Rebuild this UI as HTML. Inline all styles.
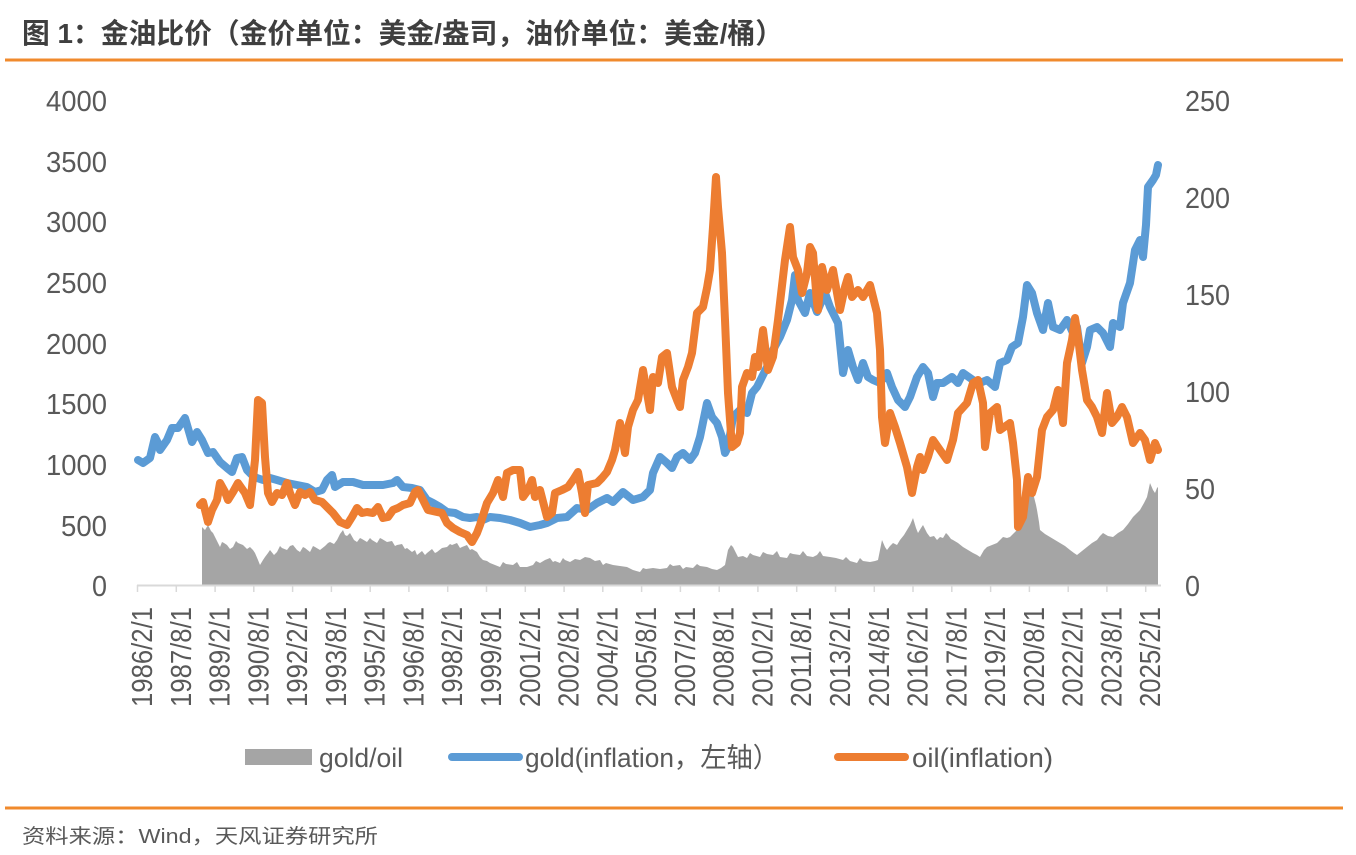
<!DOCTYPE html>
<html>
<head>
<meta charset="utf-8">
<style>
html,body{margin:0;padding:0;background:#fff;}
svg{display:block;}
text{font-family:"Liberation Sans","Noto Sans CJK SC",sans-serif;}
</style>
</head>
<body>
<svg width="1356" height="855" viewBox="0 0 1356 855" xmlns="http://www.w3.org/2000/svg">
<rect width="1356" height="855" fill="#fff"/>
<!-- Title -->
<text x="22" y="43" font-size="28" font-weight="bold" fill="#3f3f3f" textLength="761" lengthAdjust="spacingAndGlyphs">图 1：金油比价（金价单位：美金/盎司，油价单位：美金/桶）</text>
<rect x="5" y="58.5" width="1338" height="3" fill="#F08A2C"/>

<!-- Left axis labels -->
<g font-size="29" fill="#595959" text-anchor="end">
<text x="107" y="111" textLength="61" lengthAdjust="spacingAndGlyphs">4000</text>
<text x="107" y="172" textLength="61" lengthAdjust="spacingAndGlyphs">3500</text>
<text x="107" y="232" textLength="61" lengthAdjust="spacingAndGlyphs">3000</text>
<text x="107" y="293" textLength="61" lengthAdjust="spacingAndGlyphs">2500</text>
<text x="107" y="354" textLength="61" lengthAdjust="spacingAndGlyphs">2000</text>
<text x="107" y="414" textLength="61" lengthAdjust="spacingAndGlyphs">1500</text>
<text x="107" y="475" textLength="61" lengthAdjust="spacingAndGlyphs">1000</text>
<text x="107" y="536" textLength="46" lengthAdjust="spacingAndGlyphs">500</text>
<text x="107" y="596" textLength="15" lengthAdjust="spacingAndGlyphs">0</text>
</g>
<!-- Right axis labels -->
<g font-size="29" fill="#595959" text-anchor="start">
<text x="1185" y="111" textLength="45" lengthAdjust="spacingAndGlyphs">250</text>
<text x="1185" y="208" textLength="45" lengthAdjust="spacingAndGlyphs">200</text>
<text x="1185" y="305" textLength="45" lengthAdjust="spacingAndGlyphs">150</text>
<text x="1185" y="402" textLength="45" lengthAdjust="spacingAndGlyphs">100</text>
<text x="1185" y="499" textLength="30" lengthAdjust="spacingAndGlyphs">50</text>
<text x="1185" y="596" textLength="15" lengthAdjust="spacingAndGlyphs">0</text>
</g>

<!-- Gray area gold/oil -->
<polygon fill="#A5A5A5" points="202,585 202,527 205,530 208,525 211,531 213,533 217,541 220,547 222,542 224,543 227,545 230,549 233,547 236,541 238,543 243,545 247,549 250,547 253,550 255,553 258,560 260,565 263,560 265,557 268,553 270,550 274,555 277,552 280,546 282,548 287,550 290,546 293,545 297,550 300,552 303,547 305,548 310,552 313,546 315,547 320,550 325,546 328,543 330,542 334,544 337,540 340,534 343,530 345,535 347,536 350,533 354,540 357,542 360,538 362,539 367,542 370,538 372,540 377,543 380,538 382,539 387,542 392,541 395,546 397,545 402,544 405,549 407,548 412,552 415,550 417,555 422,551 425,555 427,553 432,549 435,553 437,552 442,548 447,547 450,544 452,545 457,543 460,548 462,547 467,545 470,550 472,549 477,552 480,557 483,560 487,561 490,563 495,565 500,567 503,562 506,564 513,565 517,562 520,567 527,567 533,565 536,561 540,563 545,560 550,558 553,562 555,561 560,563 563,558 565,560 570,562 575,559 580,560 585,557 590,558 595,561 600,560 603,565 606,563 613,565 620,566 627,567 633,570 640,572 643,568 646,569 653,568 660,569 667,568 670,564 673,566 680,565 683,569 686,567 693,568 697,564 700,566 707,567 712,569 717,570 721,568 725,565 728,550 731,545 733,547 736,553 738,557 743,556 747,558 750,553 753,555 760,557 763,552 767,554 773,555 777,551 780,557 787,558 790,553 793,554 800,555 803,551 807,556 813,557 817,555 820,551 823,556 830,557 836,558 843,560 846,557 850,561 857,563 860,558 863,561 870,562 875,561 878,560 882,540 885,547 887,550 890,546 893,543 897,545 900,540 904,535 907,530 910,525 913,518 916,528 918,533 921,528 923,525 927,533 930,537 934,536 937,540 940,537 943,538 946,533 948,535 951,539 953,540 958,543 963,547 968,550 973,553 977,555 980,557 984,550 987,547 992,545 997,543 1000,540 1003,537 1007,538 1010,537 1014,533 1017,530 1020,525 1022,523 1025,505 1027,495 1030,487 1032,492 1034,497 1036,505 1037,510 1039,522 1040,530 1045,534 1050,537 1055,540 1060,543 1065,546 1070,550 1074,553 1077,555 1082,551 1087,547 1092,543 1097,540 1100,536 1103,533 1108,536 1113,537 1118,533 1123,530 1128,524 1133,517 1137,513 1140,510 1144,503 1147,497 1150,483 1153,490 1155,493 1157,488 1158,487 1158,585"/>

<!-- X axis -->
<line x1="137" y1="585.5" x2="1161" y2="585.5" stroke="#D9D9D9" stroke-width="2"/>
<g stroke="#D9D9D9" stroke-width="1.5">
<line x1="137.5" y1="585" x2="137.5" y2="592"/><line x1="176.3" y1="585" x2="176.3" y2="592"/><line x1="215.1" y1="585" x2="215.1" y2="592"/><line x1="253.8" y1="585" x2="253.8" y2="592"/><line x1="292.6" y1="585" x2="292.6" y2="592"/><line x1="331.4" y1="585" x2="331.4" y2="592"/><line x1="370.2" y1="585" x2="370.2" y2="592"/><line x1="408.9" y1="585" x2="408.9" y2="592"/><line x1="447.7" y1="585" x2="447.7" y2="592"/><line x1="486.5" y1="585" x2="486.5" y2="592"/><line x1="525.3" y1="585" x2="525.3" y2="592"/><line x1="564.1" y1="585" x2="564.1" y2="592"/><line x1="602.8" y1="585" x2="602.8" y2="592"/><line x1="641.6" y1="585" x2="641.6" y2="592"/><line x1="680.4" y1="585" x2="680.4" y2="592"/><line x1="719.2" y1="585" x2="719.2" y2="592"/><line x1="757.9" y1="585" x2="757.9" y2="592"/><line x1="796.7" y1="585" x2="796.7" y2="592"/><line x1="835.5" y1="585" x2="835.5" y2="592"/><line x1="874.3" y1="585" x2="874.3" y2="592"/><line x1="913.0" y1="585" x2="913.0" y2="592"/><line x1="951.8" y1="585" x2="951.8" y2="592"/><line x1="990.6" y1="585" x2="990.6" y2="592"/><line x1="1029.4" y1="585" x2="1029.4" y2="592"/><line x1="1068.2" y1="585" x2="1068.2" y2="592"/><line x1="1106.9" y1="585" x2="1106.9" y2="592"/><line x1="1145.7" y1="585" x2="1145.7" y2="592"/>
</g>
<g font-size="29" fill="#595959" text-anchor="end">
<text transform="translate(152,607) rotate(-90)" textLength="100" lengthAdjust="spacingAndGlyphs">1986/2/1</text>
<text transform="translate(190.8,607) rotate(-90)" textLength="100" lengthAdjust="spacingAndGlyphs">1987/8/1</text>
<text transform="translate(229.6,607) rotate(-90)" textLength="100" lengthAdjust="spacingAndGlyphs">1989/2/1</text>
<text transform="translate(268.3,607) rotate(-90)" textLength="100" lengthAdjust="spacingAndGlyphs">1990/8/1</text>
<text transform="translate(307.1,607) rotate(-90)" textLength="100" lengthAdjust="spacingAndGlyphs">1992/2/1</text>
<text transform="translate(345.9,607) rotate(-90)" textLength="100" lengthAdjust="spacingAndGlyphs">1993/8/1</text>
<text transform="translate(384.7,607) rotate(-90)" textLength="100" lengthAdjust="spacingAndGlyphs">1995/2/1</text>
<text transform="translate(423.4,607) rotate(-90)" textLength="100" lengthAdjust="spacingAndGlyphs">1996/8/1</text>
<text transform="translate(462.2,607) rotate(-90)" textLength="100" lengthAdjust="spacingAndGlyphs">1998/2/1</text>
<text transform="translate(501.0,607) rotate(-90)" textLength="100" lengthAdjust="spacingAndGlyphs">1999/8/1</text>
<text transform="translate(539.8,607) rotate(-90)" textLength="100" lengthAdjust="spacingAndGlyphs">2001/2/1</text>
<text transform="translate(578.6,607) rotate(-90)" textLength="100" lengthAdjust="spacingAndGlyphs">2002/8/1</text>
<text transform="translate(617.3,607) rotate(-90)" textLength="100" lengthAdjust="spacingAndGlyphs">2004/2/1</text>
<text transform="translate(656.1,607) rotate(-90)" textLength="100" lengthAdjust="spacingAndGlyphs">2005/8/1</text>
<text transform="translate(694.9,607) rotate(-90)" textLength="100" lengthAdjust="spacingAndGlyphs">2007/2/1</text>
<text transform="translate(733.7,607) rotate(-90)" textLength="100" lengthAdjust="spacingAndGlyphs">2008/8/1</text>
<text transform="translate(772.4,607) rotate(-90)" textLength="100" lengthAdjust="spacingAndGlyphs">2010/2/1</text>
<text transform="translate(811.2,607) rotate(-90)" textLength="100" lengthAdjust="spacingAndGlyphs">2011/8/1</text>
<text transform="translate(850.0,607) rotate(-90)" textLength="100" lengthAdjust="spacingAndGlyphs">2013/2/1</text>
<text transform="translate(888.8,607) rotate(-90)" textLength="100" lengthAdjust="spacingAndGlyphs">2014/8/1</text>
<text transform="translate(927.5,607) rotate(-90)" textLength="100" lengthAdjust="spacingAndGlyphs">2016/2/1</text>
<text transform="translate(966.3,607) rotate(-90)" textLength="100" lengthAdjust="spacingAndGlyphs">2017/8/1</text>
<text transform="translate(1005.1,607) rotate(-90)" textLength="100" lengthAdjust="spacingAndGlyphs">2019/2/1</text>
<text transform="translate(1043.9,607) rotate(-90)" textLength="100" lengthAdjust="spacingAndGlyphs">2020/8/1</text>
<text transform="translate(1082.7,607) rotate(-90)" textLength="100" lengthAdjust="spacingAndGlyphs">2022/2/1</text>
<text transform="translate(1121.4,607) rotate(-90)" textLength="100" lengthAdjust="spacingAndGlyphs">2023/8/1</text>
<text transform="translate(1160.2,607) rotate(-90)" textLength="100" lengthAdjust="spacingAndGlyphs">2025/2/1</text>
</g>

<!-- Gold (blue) -->
<polyline fill="none" stroke="#5B9BD5" stroke-width="8" stroke-linejoin="round" stroke-linecap="round" points="138,460 143,463 150,458 155,437 158,443 160,450 167,440 172,428 178,428 185,418 192,442 197,432 202,440 208,453 213,452 220,462 227,468 232,472 237,458 242,457 247,470 252,475 257,478 263,480 270,478 277,480 287,483 297,485 307,487 315,492 322,490 327,480 332,475 335,487 343,482 353,482 363,485 373,485 383,485 393,483 397,480 403,487 412,488 420,490 427,500 433,503 440,507 447,512 455,513 463,517 470,518 477,517 483,520 490,517 500,518 510,520 520,523 530,527 540,525 547,523 557,518 567,517 577,508 587,510 597,503 607,498 613,502 623,492 633,500 643,497 650,490 653,473 660,457 667,463 672,468 677,457 683,453 690,460 695,453 700,437 707,403 712,417 717,423 722,437 725,453 728,447 733,417 740,410 747,413 752,393 757,387 762,377 767,367 773,350 780,337 787,320 792,300 795,275 798,300 805,313 810,293 817,312 825,293 830,307 838,323 843,373 848,350 853,367 858,380 863,363 868,377 873,380 880,383 887,373 892,387 898,400 905,407 910,397 917,377 923,367 928,373 933,397 937,383 943,383 952,377 958,383 963,373 973,380 980,383 987,380 995,387 1000,363 1007,360 1012,347 1018,343 1023,317 1027,285 1032,293 1037,313 1043,330 1048,303 1053,327 1060,330 1067,320 1073,333 1077,327 1082,363 1087,347 1090,330 1097,327 1103,333 1110,347 1113,323 1120,327 1123,303 1130,283 1135,250 1140,240 1143,257 1146,225 1148,187 1153,180 1156,175 1158,165"/>

<!-- Oil (orange) -->
<polyline fill="none" stroke="#ED7D31" stroke-width="8" stroke-linejoin="round" stroke-linecap="round" points="200,505 203,502 208,522 212,510 217,500 220,483 225,492 228,500 233,492 238,483 245,493 250,505 255,460 258,400 262,403 265,457 268,493 272,502 277,493 282,495 287,483 290,493 295,505 300,492 305,495 310,492 315,500 322,502 327,507 333,513 340,522 347,525 352,517 357,508 362,513 367,512 373,513 378,507 383,518 388,517 393,510 398,508 403,505 410,503 415,492 418,490 423,500 428,510 437,512 442,513 447,523 453,528 460,532 467,535 472,542 477,533 480,525 487,503 493,493 498,480 503,497 507,473 513,470 520,470 523,497 528,490 532,480 535,497 540,490 547,517 552,513 555,493 562,490 568,487 573,480 578,472 582,493 585,513 588,485 597,483 602,478 607,472 612,460 615,450 620,423 625,453 628,427 633,410 638,400 643,370 647,393 650,410 653,377 658,383 662,357 667,353 672,387 677,400 680,407 683,380 688,367 692,353 697,313 703,307 707,288 710,270 713,227 716,177 718,207 722,253 725,320 728,393 732,447 737,443 740,433 742,387 747,373 752,377 755,357 758,367 763,330 768,370 773,357 778,320 785,260 790,227 793,257 798,270 802,293 807,273 810,247 813,253 817,303 818,310 822,267 827,290 833,270 840,310 845,287 848,277 852,297 858,290 863,297 870,285 877,313 880,350 882,417 885,443 890,413 895,427 900,443 907,467 912,493 917,467 920,457 923,470 928,457 933,440 940,450 947,460 953,440 958,413 967,403 973,383 978,380 983,403 985,447 990,413 997,407 1000,430 1010,423 1013,443 1017,480 1018,527 1023,517 1028,477 1032,493 1037,477 1042,430 1047,417 1053,410 1058,390 1063,423 1067,363 1072,340 1075,318 1078,337 1082,370 1087,400 1092,407 1097,417 1102,433 1107,393 1112,423 1117,417 1122,407 1127,417 1133,443 1140,433 1145,440 1150,460 1155,443 1158,450"/>

<!-- Legend -->
<rect x="245" y="749" width="67" height="16" fill="#A5A5A5"/>
<text x="319" y="767" font-size="27" fill="#595959" textLength="84" lengthAdjust="spacingAndGlyphs">gold/oil</text>
<line x1="452" y1="757" x2="519" y2="757" stroke="#5B9BD5" stroke-width="8" stroke-linecap="round"/>
<text x="525" y="767" font-size="27" fill="#595959" textLength="254" lengthAdjust="spacingAndGlyphs">gold(inflation，左轴）</text>
<line x1="838" y1="757" x2="905" y2="757" stroke="#ED7D31" stroke-width="8" stroke-linecap="round"/>
<text x="912" y="767" font-size="27" fill="#595959" textLength="141" lengthAdjust="spacingAndGlyphs">oil(inflation)</text>

<rect x="5" y="806.5" width="1338" height="3" fill="#F08A2C"/>
<text x="22" y="843" font-size="20" fill="#595959" textLength="356" lengthAdjust="spacingAndGlyphs">资料来源：Wind，天风证券研究所</text>
</svg>
</body>
</html>
